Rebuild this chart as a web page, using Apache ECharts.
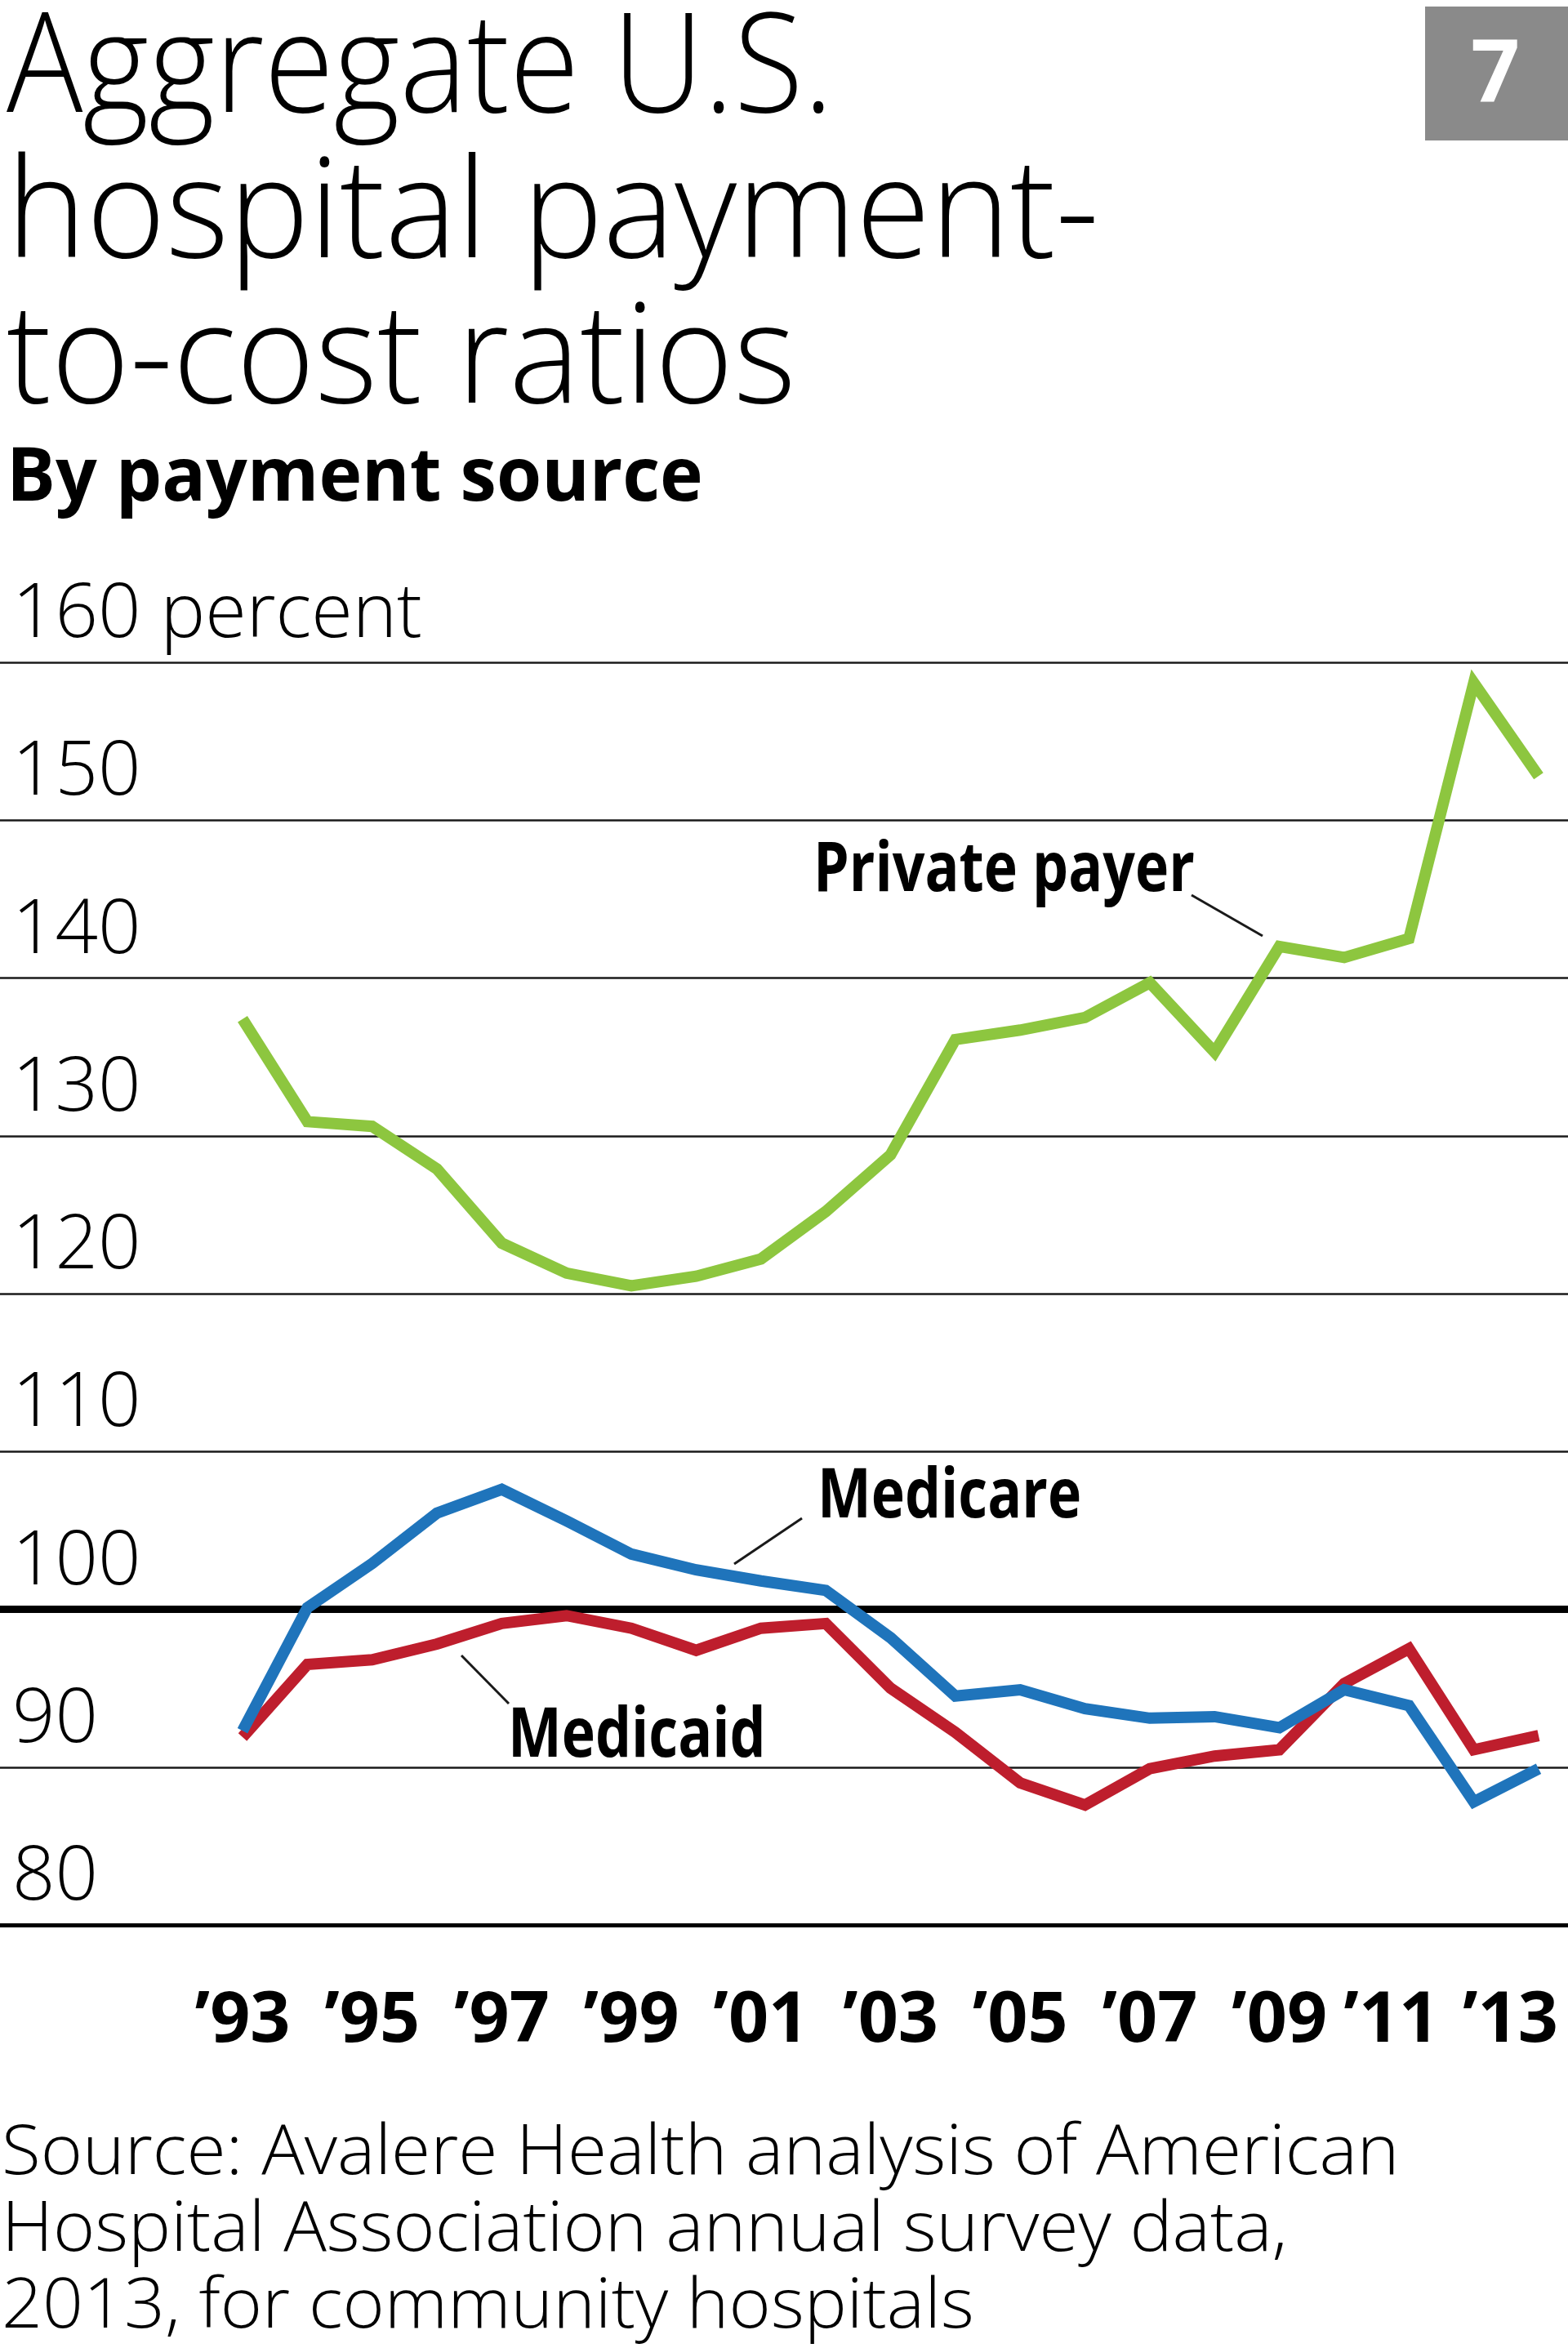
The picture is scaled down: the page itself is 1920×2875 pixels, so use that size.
<!DOCTYPE html>
<html>
<head>
<meta charset="utf-8">
<script src="https://cdn.jsdelivr.net/npm/echarts@6/dist/echarts.min.js"></script>
<style>
  html, body { margin: 0; padding: 0; background: #fff; }
  #chart { width: 1920px; height: 2875px; }
</style>
</head>
<body>
<div id="chart"></div>
<script>
var years = [1993, 1994, 1995, 1996, 1997, 1998, 1999, 2000, 2001, 2002, 2003,
             2004, 2005, 2006, 2007, 2008, 2009, 2010, 2011, 2012, 2013];
var privatePayer = [137.4, 130.9, 130.6, 127.9, 123.2, 121.3, 120.5, 121.1, 122.2, 125.2, 128.8,
                    136.1, 136.7, 137.5, 139.7, 135.3, 142.0, 141.3, 142.5, 158.7, 152.8];
var medicare = [92.3, 100.1, 102.9, 106.1, 107.6, 105.6, 103.5, 102.5, 101.8, 101.2, 98.2,
                94.5, 94.9, 93.7, 93.1, 93.2, 92.5, 94.9, 93.9, 87.8, 89.9];
var medicaid = [91.9, 96.5, 96.8, 97.8, 99.1, 99.6, 98.8, 97.4, 98.8, 99.1, 95.0,
                92.2, 89.0, 87.6, 89.9, 90.7, 91.1, 95.3, 97.5, 91.1, 92.0];
var tickYears = [1993, 1995, 1997, 1999, 2001, 2003, 2005, 2007, 2009, 2011, 2013];

function pairs(vals) {
    return years.map(function (y, i) { return [y, vals[i]]; });
}

var fam = '"Open Sans", "Noto Sans", sans-serif';

var myChart = echarts.init(document.getElementById('chart'), null, {renderer: 'canvas'});

function txt(text, x, y, size, weight, sx, fill, align) {
    return {
        type: 'text',
        x: x,
        y: y,
        scaleX: sx || 1,
        style: {
            text: text,
            font: weight + ' ' + size + 'px ' + fam,
            fill: fill || '#000',
            align: align || 'left',
            verticalAlign: 'middle'
        }
    };
}
function leader(x1, y1, x2, y2) {
    return {
        type: 'line',
        shape: {x1: x1, y1: y1, x2: x2, y2: y2},
        style: {stroke: '#1a1a1a', lineWidth: 3}
    };
}

function labelBox(w) {
    return {width: w, align: 'left', fontFamily: fam, fontWeight: 'bold', fontSize: 86, color: '#000'};
}

var option = {
    backgroundColor: '#fff',
    animation: false,
    grid: {left: 0, right: 0, top: 811, bottom: 518, outerBoundsMode: 'none', containLabel: false},
    xAxis: {
        type: 'value',
        min: 1989.257,
        max: 2013.454,
        splitLine: {show: false},
        axisTick: {show: false},
        axisLine: {show: true, onZero: false, lineStyle: {color: '#000', width: 5}},
        axisLabel: {
            customValues: tickYears,
            margin: 118,
            verticalAlign: 'middle',
            showMaxLabel: true,
            showMinLabel: true,
            hideOverlap: false,
            fontFamily: fam,
            fontWeight: 'bold',
            fontSize: 86,
            color: '#000',
            formatter: function (v) {
                var s = '\u2019' + String(v).slice(2);
                // the last two labels sit a little left of their years, as in print
                if (v === 2013) { return '{r|' + s + '}'; }
                if (v === 2011) { return '{q|' + s + '}'; }
                return s;
            },
            rich: {
                r: labelBox(186),
                q: labelBox(160)
            }
        }
    },
    yAxis: {
        type: 'value',
        min: 80,
        max: 160,
        interval: 10,
        axisLine: {show: false},
        axisTick: {show: false},
        splitLine: {show: true, lineStyle: {color: '#1a1a1a', width: 2.5}},
        axisLabel: {
            inside: true,
            margin: 15,
            align: 'left',
            verticalAlign: 'bottom',
            lineHeight: 114,
            fontFamily: fam,
            fontWeight: 300,
            fontSize: 92,
            color: '#000',
            formatter: function (v) {
                return v === 160 ? '160 percent' : String(v);
            }
        }
    },
    series: [
        {
            name: 'Private payer',
            type: 'line',
            data: pairs(privatePayer),
            symbol: 'none',
            lineStyle: {color: '#8dc63f', width: 14, join: 'miter'},
            z: 5,
            markLine: {
                silent: true,
                symbol: 'none',
                label: {show: false},
                lineStyle: {color: '#000', width: 9, type: 'solid'},
                data: [{yAxis: 100}]
            }
        },
        {
            name: 'Medicaid',
            type: 'line',
            data: pairs(medicaid),
            symbol: 'none',
            lineStyle: {color: '#be1e2d', width: 14, join: 'miter'},
            z: 6
        },
        {
            name: 'Medicare',
            type: 'line',
            data: pairs(medicare),
            symbol: 'none',
            lineStyle: {color: '#1f74bb', width: 14, join: 'miter'},
            z: 7
        }
    ],
    graphic: [
        txt('Aggregate U.S.', 8, 89, 169, 300, 0.92),
        txt('hospital payment-', 8, 267, 169, 300, 0.98),
        txt('to-cost ratios', 8, 445, 169, 300, 0.97),
        txt('By payment source', 8, 587, 91, 'bold', 0.98),
        {
            type: 'rect',
            shape: {x: 1745, y: 8, width: 175, height: 164},
            style: {fill: '#8a8a8a'}
        },
        txt('7', 1831, 94, 105, 'bold', 1, '#fff', 'center'),
        txt('Private payer', 996, 1067, 84, 'bold', 0.83),
        leader(1459, 1096, 1546, 1146),
        txt('Medicare', 1001, 1834, 84, 'bold', 0.83),
        leader(982, 1859, 899, 1915),
        txt('Medicaid', 622, 2127, 84, 'bold', 0.83),
        leader(565, 2027, 623, 2086),
        txt('Source: Avalere Health analysis of American', 2, 2638, 85, 300, 1.03),
        txt('Hospital Association annual survey data,', 2, 2732, 85, 300, 1.03),
        txt('2013, for community hospitals', 2, 2826, 85, 300, 1.03)
    ]
};
myChart.setOption(option);
</script>
</body>
</html>
